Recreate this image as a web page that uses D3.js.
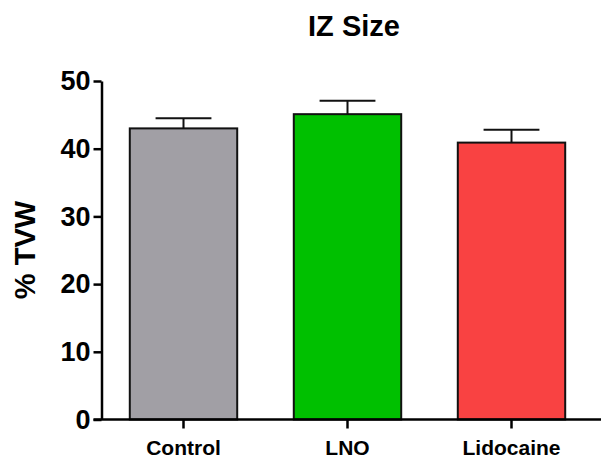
<!DOCTYPE html>
<html>
<head>
<meta charset="utf-8">
<script src="https://cdn.jsdelivr.net/npm/d3@7"></script>
<style>
  html, body { margin: 0; padding: 0; background: #fff; }
  svg { display: block; font-family: "Liberation Sans", Arial, sans-serif; font-weight: bold; }
</style>
</head>
<body>
<svg id="chart" width="601" height="458"></svg>
<script>
// Group names, means and error (upper SEM) values
const categories = ["Control", "LNO", "Lidocaine"];
const means = [43.0, 45.1, 40.9];
const errors = [1.5, 2.0, 1.9];
const colors = ["#a19fa5", "#00c000", "#f94242"];
const yTicks = [0, 10, 20, 30, 40, 50];

const svg = d3.select("#chart");
const x0 = 101.5, x1 = 593.5, yTop = 81, yBottom = 419.5;

const x = d3.scaleBand().domain(categories).range([x0, x1])
  .paddingInner(0.345).paddingOuter(0.1725);
const y = d3.scaleLinear().domain([0, 50]).range([yBottom, yTop]);

// Title
svg.append("text").attr("x", 354).attr("y", 36)
  .attr("text-anchor", "middle").attr("font-size", 29).text("IZ Size");

// Y axis label
svg.append("text")
  .attr("transform", `translate(35,250) rotate(-90)`)
  .attr("text-anchor", "middle").attr("font-size", 29).text("% TVW");

// Bars
const data = categories.map((c, i) => ({ c, m: means[i], e: errors[i], col: colors[i] }));
svg.selectAll("rect.bar").data(data).enter().append("rect")
  .attr("class", "bar")
  .attr("x", d => x(d.c)).attr("width", x.bandwidth())
  .attr("y", d => y(d.m)).attr("height", d => y(0) - y(d.m))
  .attr("fill", d => d.col).attr("stroke", "#111").attr("stroke-width", 2);

// Error bars (upper only)
const cap = x.bandwidth() * 0.52;
const eb = svg.selectAll("g.err").data(data).enter().append("g").attr("class", "err")
  .attr("stroke", "#111").attr("stroke-width", 2);
eb.append("line")
  .attr("x1", d => x(d.c) + x.bandwidth() / 2).attr("x2", d => x(d.c) + x.bandwidth() / 2)
  .attr("y1", d => y(d.m)).attr("y2", d => y(d.m + d.e));
eb.append("line")
  .attr("x1", d => x(d.c) + x.bandwidth() / 2 - cap / 2).attr("x2", d => x(d.c) + x.bandwidth() / 2 + cap / 2)
  .attr("y1", d => y(d.m + d.e)).attr("y2", d => y(d.m + d.e));

// Y axis
const yAxis = svg.append("g").attr("transform", `translate(${x0},0)`)
  .call(d3.axisLeft(y).tickValues(yTicks).tickSize(8).tickPadding(3).tickSizeOuter(0));
yAxis.select(".domain").attr("stroke", "#000").attr("stroke-width", 2.5);
yAxis.selectAll(".tick line").attr("stroke", "#000").attr("stroke-width", 2.5);
yAxis.selectAll(".tick text").attr("font-size", 27).attr("fill", "#000")
  .attr("font-family", "Liberation Sans, Arial, sans-serif").attr("font-weight", "bold");

// X axis
const xAxis = svg.append("g").attr("transform", `translate(0,${yBottom})`)
  .call(d3.axisBottom(x).tickSize(9).tickPadding(12).tickSizeOuter(0));
xAxis.select(".domain").attr("d", `M${x0 - 8},0H601`).attr("stroke", "#000").attr("stroke-width", 2.5);
xAxis.selectAll(".tick line").attr("stroke", "#000").attr("stroke-width", 2.5);
xAxis.selectAll(".tick text").attr("font-size", 21).attr("fill", "#000")
  .attr("font-family", "Liberation Sans, Arial, sans-serif").attr("font-weight", "bold");
</script>
</body>
</html>
